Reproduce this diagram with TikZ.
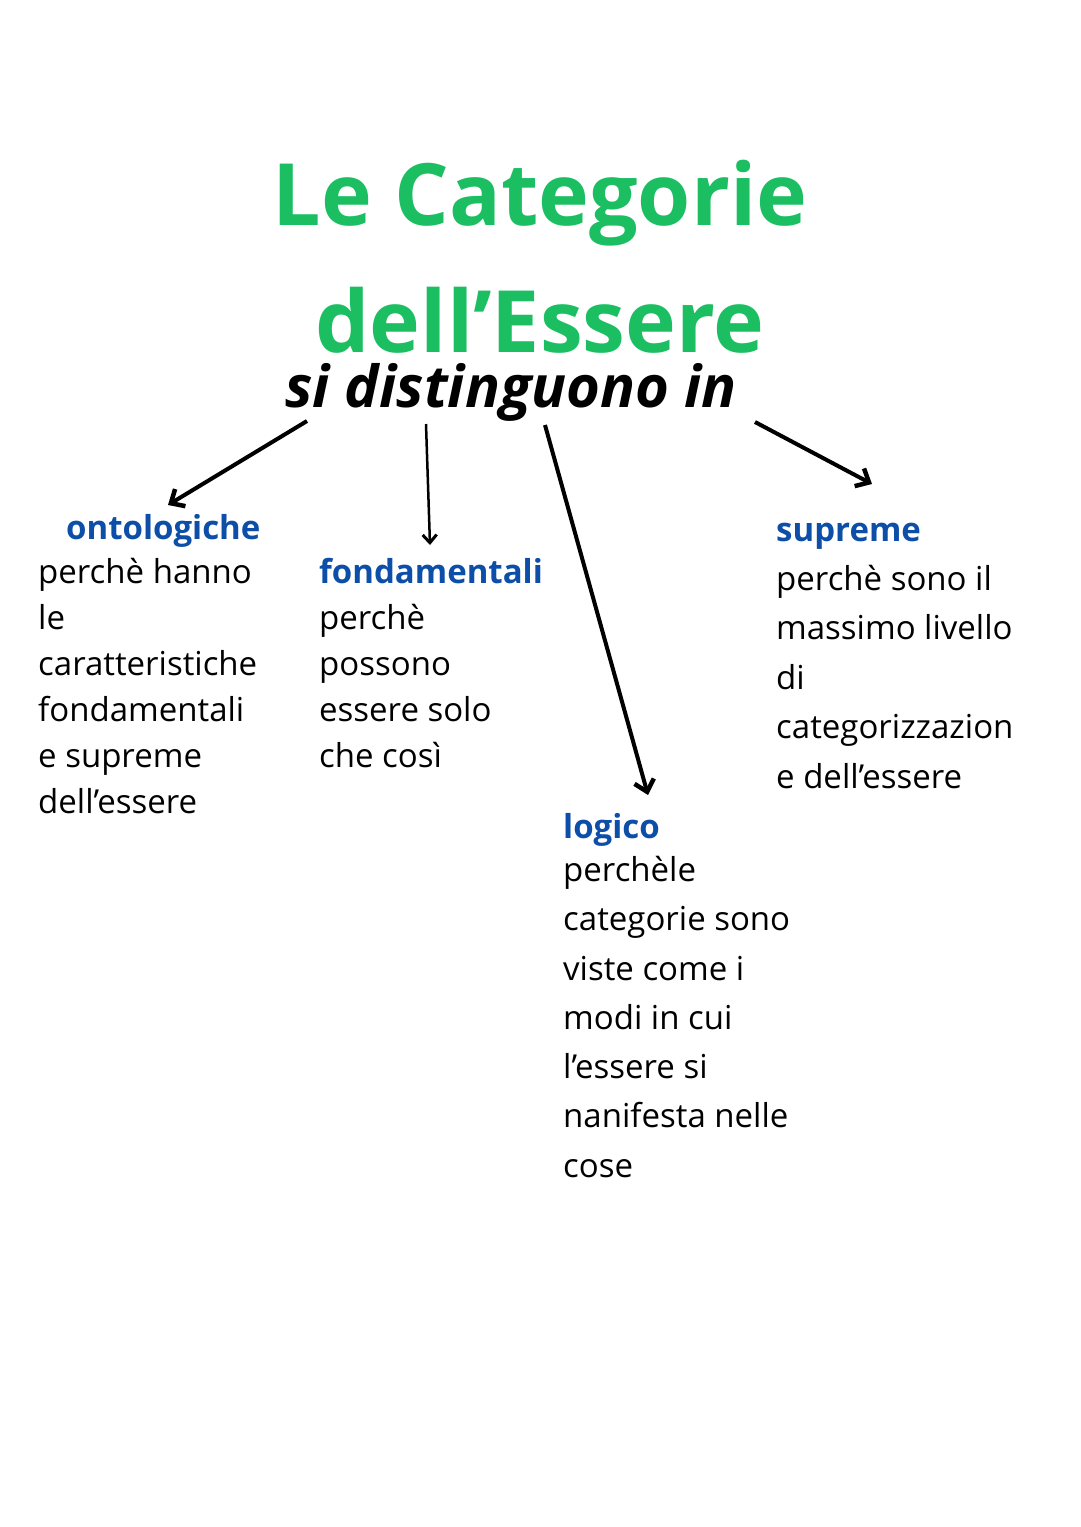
\documentclass[tikz,border=0pt]{standalone}
\usetikzlibrary{arrows.meta}
\usepackage{fontspec}
\setmainfont{Open Sans}
\definecolor{tgreen}{HTML}{1BBF62}
\definecolor{tblue}{HTML}{0D4FA8}
\begin{document}
\begin{tikzpicture}[x=1pt,y=-1pt,
  head/.style={anchor=north west,inner sep=0pt,text=tblue,font=\fontsize{33}{40}\selectfont\bfseries},
  body/.style={anchor=north west,inner sep=0pt,align=left,font=\fontsize{33}{#1}\selectfont},
  big/.style={-{Straight Barb[length=11pt,width=20pt,line width=4.5pt]},line width=4pt},
  thin/.style={-{Straight Barb[length=8pt,width=14pt,line width=3pt]},line width=2.5pt}]
\useasboundingbox[fill=white] (0,0) rectangle (1080,1527);
\node[text=tgreen,font=\fontsize{86}{90}\selectfont\bfseries] (t1) at (540,203) {Le Categorie};
\node[text=tgreen,font=\fontsize{86}{90}\selectfont\bfseries] (t2) at (540,320) {dell’Essere};
\node[font=\fontsize{58}{60}\selectfont\bfseries\itshape] (sd) at (511,392) {si distinguono in};
\node[head] (h1) at (66,514) {ontologiche};
\node[body=46] (b1) at (38,558) {perchè hanno\\le\\caratteristiche\\fondamentali\\e supreme\\dell’essere};
\node[head] (h2) at (319,558) {fondamentali};
\node[body=46] (b2) at (319,604) {perchè\\possono\\essere solo\\che così};
\node[head] (h3) at (776,523) {supreme};
\node[body=49.5] (b3) at (776,565) {perchè sono il\\massimo livello\\di\\categorizzazion\\e dell’essere};
\node[head] (h4) at (563,813) {logico};
\node[body=49.3] (b4) at (563,856) {perchèle\\categorie sono\\viste come i\\modi in cui\\l’essere si\\nanifesta nelle\\cose};
\coordinate (s1) at (307,421); \coordinate (s2) at (426,424);
\coordinate (s3) at (545,425); \coordinate (s4) at (755,422);
\coordinate (e1) at (168,505); \coordinate (e2) at (430,545);
\coordinate (e3) at (648,795); \coordinate (e4) at (872,484);
\draw[big] (s1) -- (e1);
\draw[thin] (s2) -- (e2);
\draw[big] (s3) -- (e3);
\draw[big] (s4) -- (e4);
\end{tikzpicture}
\end{document}
